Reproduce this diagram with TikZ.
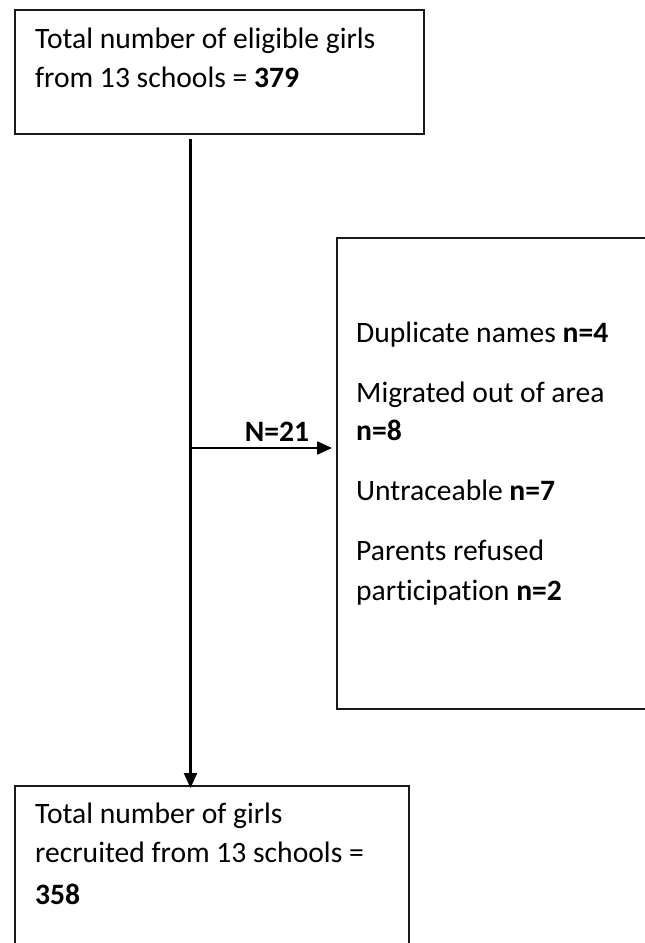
\documentclass[tikz,border=0pt]{standalone}
\usepackage{fontspec}
\setmainfont[Ligatures=NoCommon]{Carlito}
\usetikzlibrary{arrows.meta}
\begin{document}
\begin{tikzpicture}[x=1pt,y=-1pt,
  boxnode/.style={draw=black!90,line width=2.1pt,inner sep=0pt,anchor=north west},
  txt/.style={anchor=base west,inner sep=0pt,font=\fontsize{29.6}{39}\selectfont},
  lbl/.style={anchor=base,inner sep=0pt,font=\fontsize{29.6}{39}\selectfont\bfseries},
  conn/.style={line width=2.4pt,-{Triangle[length=15pt,width=13pt]}}]
\useasboundingbox (0,0) rectangle (645,943);
% boxes
\node[boxnode,minimum width=409pt,minimum height=123.5pt] (top) at (14,9) {};
\node[boxnode,minimum width=400pt,minimum height=471pt] (excl) at (336,237) {};
\node[boxnode,minimum width=394pt,minimum height=200pt] (bot) at (14,785) {};
% texts
\node[txt] (t1) at (35,48) {Total number of eligible girls};
\node[txt] (t2) at (35,87) {from 13 schools = \textbf{379}};
\node[txt] (e1) at (356,342) {Duplicate names \textbf{n=4}};
\node[txt] (e2) at (356,402) {Migrated out of area};
\node[txt] (e3) at (356,440) {\textbf{n=8}};
\node[txt] (e4) at (356,500) {Untraceable \textbf{n=7}};
\node[txt] (e5) at (356,560) {Parents refused};
\node[txt] (e6) at (356,600) {participation \textbf{n=2}};
\node[txt] (b1) at (35,823) {Total number of girls};
\node[txt] (b2) at (35,862) {recruited from 13 schools =};
\node[txt] (b3) at (35,904) {\textbf{358}};
% connectors
\coordinate (vstart) at (190.5,139);
\coordinate (branch) at (190.5,448);
\draw[conn] (vstart) -- ([yshift=-3pt]vstart |- bot.north);
\draw[conn] (branch) -- ([xshift=-4pt]branch -| excl.west);
\node[lbl] (n21) at (277,441) {N=21};
\end{tikzpicture}
\end{document}
